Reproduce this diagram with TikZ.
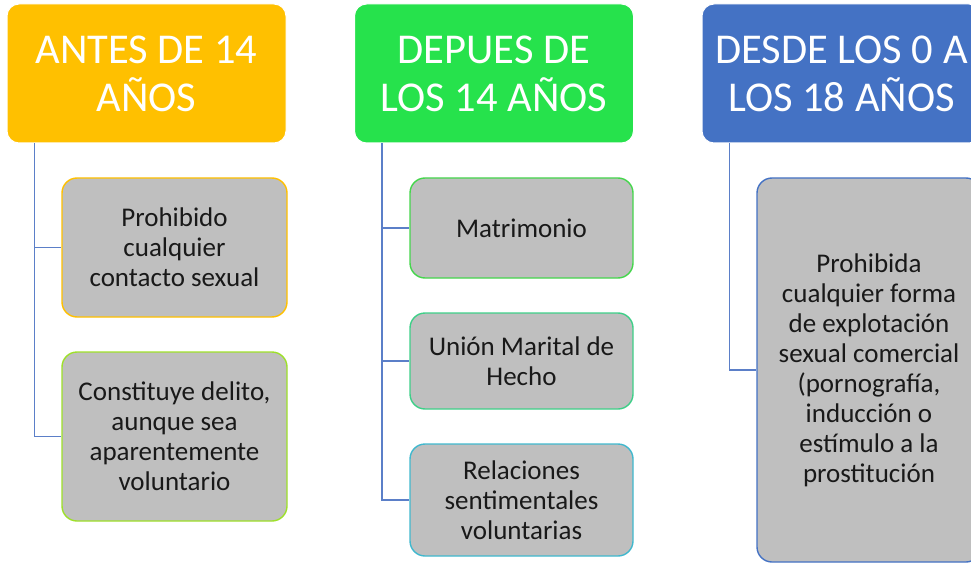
\documentclass[tikz,border=0pt]{standalone}
\usepackage{fontspec}
\setmainfont{Carlito}
\usepackage{xcolor}

\definecolor{hdorange}{HTML}{FFC000}
\definecolor{hdgreen}{HTML}{26E24C}
\definecolor{hdblue}{HTML}{4472C4}
\definecolor{boxgray}{HTML}{BFBFBF}
\definecolor{bdlime}{HTML}{9EE02A}
\definecolor{bdgreen}{HTML}{45D64C}
\definecolor{bdteal}{HTML}{3ECF88}
\definecolor{bdcyan}{HTML}{40B8CE}
\definecolor{connblue}{HTML}{5B7FC8}

\tikzset{
  head/.style={draw=white, line width=1pt, rounded corners=12pt, minimum width=279pt,
    minimum height=139pt, align=center, text=white, inner sep=0pt,
    font=\fontsize{42.5}{48}\selectfont},
  item/.style={fill=boxgray, line width=1.4pt, rounded corners=15pt, align=center,
    inner sep=0pt, text=black!90, font=\fontsize{27}{30}\selectfont},
  conn/.style={connblue, line width=1.8pt},
}

\begin{document}
\begin{tikzpicture}[x=1pt,y=1pt]
        \useasboundingbox (0,0) rectangle (971,-564);
        \clip (0,0) rectangle (971,-564);

        % Encabezados
        \node[head, fill=hdorange] (h1) at (146.5,-73.5) {ANTES DE 14\\AÑOS};
        \node[head, fill=hdgreen]  (h2) at (494,-73.5)   {DEPUES DE\\LOS 14 AÑOS};
        \node[head, fill=hdblue]   (h3) at (841.5,-73.5) {DESDE LOS 0 A\\LOS 18 AÑOS};

        % Recuadros
        \node[item, draw=hdorange, minimum width=225pt, minimum height=139pt] (a1) at (174.5,-247.5)
            {Prohibido\\cualquier\\contacto sexual};
        \node[item, draw=bdlime, minimum width=225pt, minimum height=169pt] (a2) at (174.5,-436.5)
            {Constituye delito,\\aunque sea\\aparentemente\\voluntario};

        \node[item, draw=bdgreen, minimum width=223pt, minimum height=100pt] (b1) at (521.5,-228)
            {Matrimonio};
        \node[item, draw=bdteal, minimum width=223pt, minimum height=96pt] (b2) at (521.5,-361)
            {Unión Marital de\\Hecho};
        \node[item, draw=bdcyan, minimum width=223pt, minimum height=112pt] (b3) at (521.5,-500)
            {Relaciones\\sentimentales\\voluntarias};

        \node[item, draw=hdblue, minimum width=224pt, minimum height=384pt] (c1) at (869,-370)
            {Prohibida\\cualquier forma\\de explotación\\sexual comercial\\(pornografía,\\inducción o\\estímulo a la\\prostitución};

        % Conectores
        \foreach \h/\k in {h1/a1,h1/a2,h2/b1,h2/b2,h2/b3,h3/c1}
            \draw[conn] ([xshift=-112pt]\h.south) |- (\k.west);
    \end{tikzpicture}
\end{document}
